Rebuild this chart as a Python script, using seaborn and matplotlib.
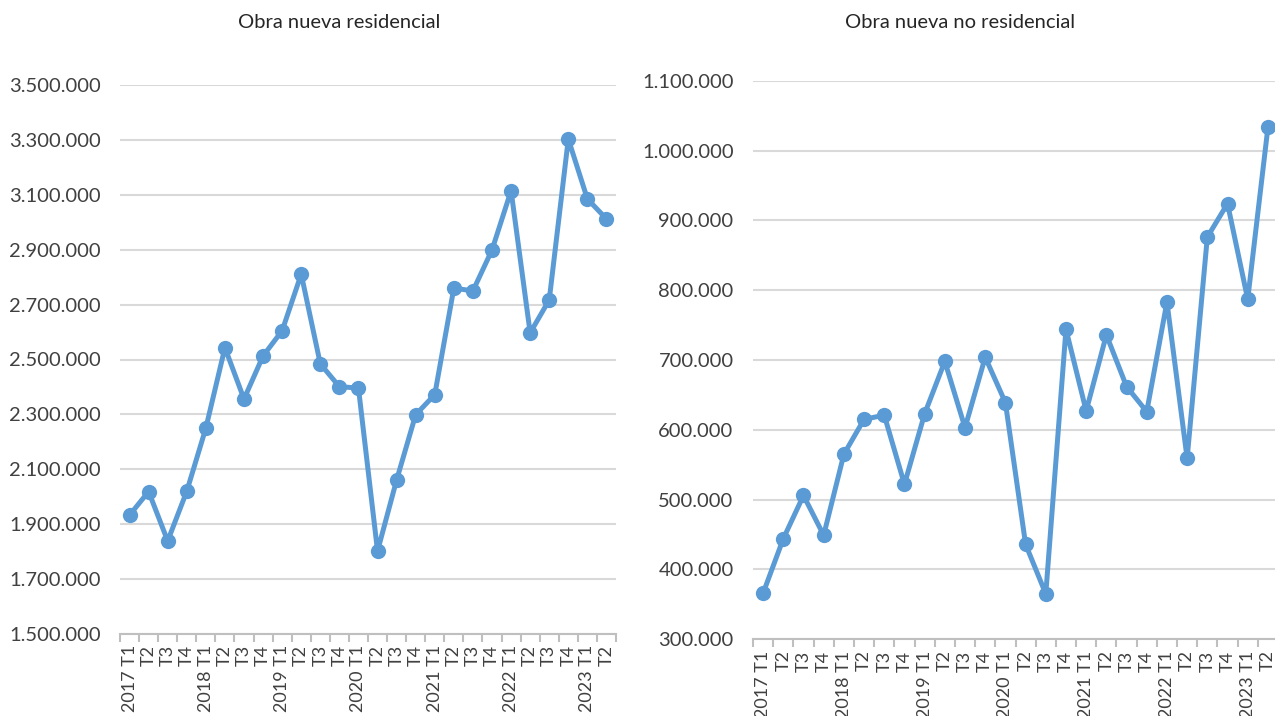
import numpy as np
import pandas as pd
import seaborn as sns
import matplotlib.pyplot as plt
from matplotlib.ticker import FuncFormatter, FixedLocator

# Quarterly data, 2017 T1 - 2023 T2
years = ["2017", "2018", "2019", "2020", "2021", "2022", "2023"]
quarters = ["T1", "T2", "T3", "T4"]
periods = [f"{y} {q}" for y in years for q in quarters][:26]
tick_labels = [p if p.endswith("T1") else p.split(" ")[1] for p in periods]

residencial = [1933000, 2019000, 1839000, 2020000, 2250000, 2543000, 2356000, 2513000,
               2605000, 2811000, 2484000, 2401000, 2396000, 1802000, 2061000, 2299000,
               2372000, 2760000, 2750000, 2899000, 3115000, 2597000, 2717000, 3303000,
               3085000, 3012000]
no_residencial = [366000, 444000, 506000, 449000, 565000, 615000, 621000, 522000,
                  623000, 698000, 603000, 704000, 639000, 436000, 365000, 744000,
                  627000, 736000, 662000, 626000, 783000, 559000, 876000, 924000,
                  787000, 1033000]

df = pd.DataFrame({"pos": np.arange(len(periods)), "periodo": periods,
                   "residencial": residencial, "no_residencial": no_residencial})

sns.set_theme(style="white")
plt.rcParams["font.family"] = ["Lato", "DejaVu Sans"]

blue = "#5b9bd5"
text_col = "#404040"
fmt = FuncFormatter(lambda v, p: f"{v:,.0f}".replace(",", "."))

fig = plt.figure(figsize=(12.75, 7.16), dpi=100)
ax1 = fig.add_axes([120 / 1275, 82 / 716, 496 / 1275, 549 / 716])
ax2 = fig.add_axes([753 / 1275, 76.7 / 716, 525 / 1275, 558.6 / 716])

panels = [(ax1, "residencial", (1500000, 3500000), 200000),
          (ax2, "no_residencial", (300000, 1100000), 100000)]

for ax, col, ylim, step in panels:
    sns.lineplot(data=df, x="pos", y=col, ax=ax, color=blue, linewidth=3.6,
                 marker="o", markersize=11, markeredgewidth=0, clip_on=False)
    ax.set_ylim(*ylim)
    ax.set_xlim(-0.5, len(periods) - 0.5)
    ax.set_yticks(np.arange(ylim[0], ylim[1] + 1, step))
    ax.yaxis.set_major_formatter(fmt)
    ax.grid(axis="y", color="#d9d9d9", linewidth=1.5)
    ax.set_axisbelow(True)
    for s in ["left", "right", "top"]:
        ax.spines[s].set_visible(False)
    ax.spines["bottom"].set_color("#bfbfbf")
    ax.spines["bottom"].set_linewidth(1.5)
    ax.set_xticks(df["pos"])
    ax.set_xticklabels(tick_labels, rotation=90)
    ax.xaxis.set_minor_locator(FixedLocator(np.arange(-0.5, len(periods), 1.0)))
    ax.tick_params(axis="x", which="major", length=0, pad=8, labelsize=13, labelcolor=text_col)
    ax.tick_params(axis="x", which="minor", length=6, width=1.5, color="#bfbfbf", bottom=True)
    ax.tick_params(axis="y", length=0, pad=14, labelsize=14.5, labelcolor=text_col)
    ax.set_xlabel("")
    ax.set_ylabel("")

fig.text(339 / 1275, 1 - 23 / 716, "Obra nueva residencial", ha="center", va="center",
         fontsize=14.5, color="#262626")
fig.text(960 / 1275, 1 - 23 / 716, "Obra nueva no residencial", ha="center", va="center",
         fontsize=14.5, color="#262626")

fig.savefig("out.png", dpi=100)
